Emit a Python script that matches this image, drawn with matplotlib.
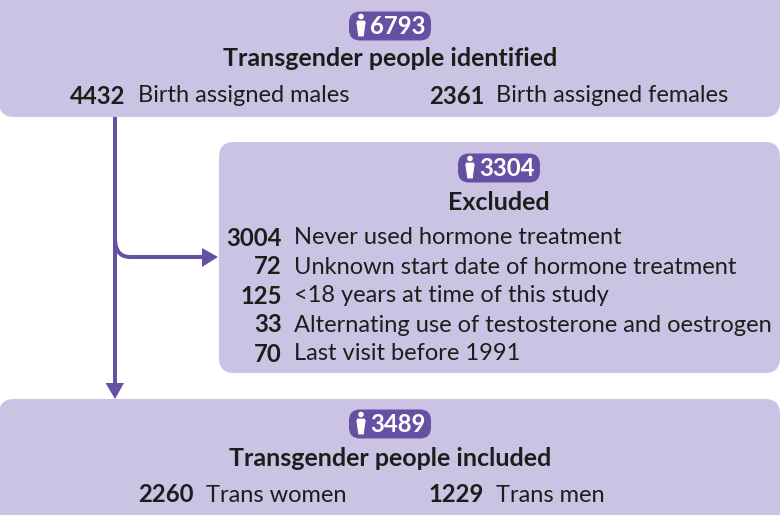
import matplotlib
matplotlib.use('Agg')
import matplotlib.pyplot as plt
from matplotlib.patches import FancyBboxPatch, Circle, Polygon, PathPatch
from matplotlib.path import Path

plt.rcParams['font.family'] = ['Lato', 'DejaVu Sans']

BOX = '#cbc3e3'
PURPLE = '#6650a4'
INK = '#1d1d1b'

top_total = '6793'
top_title = 'Transgender people identified'
top_counts = ['4432', '2361']
top_labels = ['Birth assigned males', 'Birth assigned females']

excl_total = '3304'
excl_title = 'Excluded'
excl_counts = ['3004', '72', '125', '33', '70']
excl_labels = ['Never used hormone treatment',
               'Unknown start date of hormone treatment',
               '<18 years at time of this study',
               'Alternating use of testosterone and oestrogen',
               'Last visit before 1991']

bottom_total = '3489'
bottom_title = 'Transgender people included'
bottom_counts = ['2260', '1229']
bottom_labels = ['Trans women', 'Trans men']


def box(ax, x0, y0, x1, y1, r=15):
    ax.add_patch(FancyBboxPatch((x0 + r, y0 + r), x1 - x0 - 2 * r, y1 - y0 - 2 * r,
                                boxstyle=f'round,pad={r},rounding_size={r}',
                                fc=BOX, ec='none', zorder=1))


def badge(ax, cx, cy, value):
    # pill with a small person icon and the count
    w, h, r = 82, 29, 11
    ax.add_patch(FancyBboxPatch((cx - w / 2 + r, cy - h / 2 + r), w - 2 * r, h - 2 * r,
                                boxstyle=f'round,pad={r},rounding_size={r}',
                                fc=PURPLE, ec='none', zorder=2))
    px = cx - 29
    ax.add_patch(Circle((px, cy - 9.5), 2.8, fc='white', ec='none', zorder=3))
    ax.add_patch(Polygon([[px - 3.6, cy - 5], [px + 3.6, cy - 5], [px + 4.2, cy - 3],
                          [px + 3.2, cy + 3], [px + 2.4, cy + 10], [px - 2.4, cy + 10],
                          [px - 3.2, cy + 3], [px - 4.2, cy - 3]],
                         fc='white', ec='white', lw=0.6, joinstyle='round', zorder=3))
    ax.text(cx + 8, cy + 0.5, value, color='white', fontsize=17.2, fontweight='bold',
            ha='center', va='center', zorder=3)


def pair(ax, y, count, label, x_count, x_label):
    ax.text(x_count, y, count, fontsize=17.2, fontweight='bold', color=INK,
            ha='right', va='center_baseline', zorder=3)
    ax.text(x_label, y, label, fontsize=17, color=INK,
            ha='left', va='center_baseline', zorder=3)


fig = plt.figure(figsize=(7.8, 5.15), dpi=100)
ax = fig.add_axes([0, 0, 1, 1])
ax.set_xlim(0, 780)
ax.set_ylim(515, 0)
ax.axis('off')

box(ax, -1, -20, 780, 117)
box(ax, 219, 142, 780, 373)
box(ax, -1, 399, 780, 535)

# arrows
ax.plot([115, 115], [117, 386], color=PURPLE, lw=2.9, solid_capstyle='butt', zorder=2)
ax.add_patch(Polygon([[105.5, 383], [124, 383], [115, 399]], fc=PURPLE, ec='none', zorder=2))
elbow = Path([(115, 238), (115, 257), (130, 257), (205, 257)],
             [Path.MOVETO, Path.CURVE3, Path.CURVE3, Path.LINETO])
ax.add_patch(PathPatch(elbow, fc='none', ec=PURPLE, lw=2.9, zorder=2))
ax.add_patch(Polygon([[202, 248], [202, 267], [218, 257]], fc=PURPLE, ec='none', zorder=2))

# top box
badge(ax, 390, 26, top_total)
ax.text(390, 57, top_title, fontsize=18, fontweight='bold', color=INK,
        ha='center', va='center_baseline')
pair(ax, 94, top_counts[0], top_labels[0], 125, 137.5)
pair(ax, 94, top_counts[1], top_labels[1], 484, 496.5)

# excluded box
badge(ax, 499, 168, excl_total)
ax.text(499, 200, excl_title, fontsize=18, fontweight='bold', color=INK,
        ha='center', va='center_baseline')
for y, c, l in zip([236, 265, 294, 323, 352], excl_counts, excl_labels):
    pair(ax, y, c, l, 282, 294.5)

# bottom box
badge(ax, 390, 424, bottom_total)
ax.text(390, 456, bottom_title, fontsize=18, fontweight='bold', color=INK,
        ha='center', va='center_baseline')
pair(ax, 493, bottom_counts[0], bottom_labels[0], 194, 206.5)
pair(ax, 493, bottom_counts[1], bottom_labels[1], 484, 496.5)

fig.savefig('out.png', dpi=100)
